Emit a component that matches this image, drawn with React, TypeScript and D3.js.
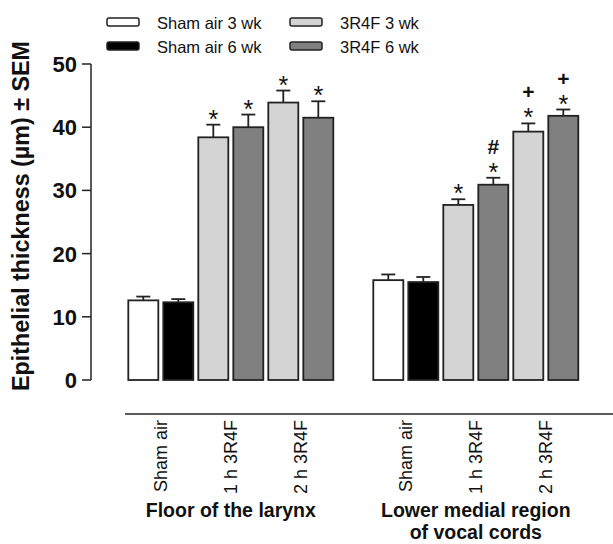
import React from 'react';
import * as d3 from 'd3';

const width = 613;
const height = 544;

const groupTitles = [['Floor of the larynx'], ['Lower medial region', 'of vocal cords']];
const groups = ['larynx', 'cords'];
const categories = ['Sham air', '1 h 3R4F', '2 h 3R4F'];
const seriesNames = ['Sham air 3 wk', 'Sham air 6 wk', '3R4F 3 wk', '3R4F 6 wk'];
const seriesColors = ['#ffffff', '#000000', '#d4d4d4', '#808080'];

// bars in order: Sham 3wk, Sham 6wk, 1h 3wk, 1h 6wk, 2h 3wk, 2h 6wk
const larynxMean = [12.6, 12.3, 38.4, 40.0, 43.9, 41.5];
const larynxSem = [0.6, 0.5, 2.0, 2.0, 1.9, 2.6];
const larynxMarks = [[], [], ['*'], ['*'], ['*'], ['*']];

const cordsMean = [15.8, 15.5, 27.7, 30.9, 39.3, 41.8];
const cordsSem = [0.9, 0.8, 0.9, 1.1, 1.3, 1.0];
const cordsMarks = [[], [], ['*'], ['*', '#'], ['*', '+'], ['*', '+']];

const yTicks = [0, 10, 20, 30, 40, 50];

const font = "'Liberation Sans', Arial, sans-serif";

const App = () => {
  const y = d3.scaleLinear().domain([0, 50]).range([380, 64]);

  const xGroup = d3.scaleBand<string>()
    .domain(groups)
    .range([128.3, 583.3])
    .paddingInner(35 / 245);

  const xBar = d3.scaleBand<string>()
    .domain(d3.range(6).map(String))
    .range([0, 205])
    .paddingInner(1 / 7);

  const xCat = d3.scaleBand<string>()
    .domain(categories)
    .range([0, 205])
    .paddingInner(5 / 70);

  const data = [
    { key: 'larynx', mean: larynxMean, sem: larynxSem, marks: larynxMarks },
    { key: 'cords', mean: cordsMean, sem: cordsSem, marks: cordsMarks },
  ];

  // Sham air bars take series 0/1, exposed bars take 2/3
  const seriesOf = (i: number) => (i < 2 ? i : 2 + (i % 2));

  const capW = 14;

  return (
    <svg width={width} height={height} style={{ position: 'absolute', left: 0, top: 0, background: '#fff' }}
      fontFamily={font}>
      {/* legend */}
      {seriesNames.map((name, i) => {
        const col = i < 2 ? 0 : 1;
        const row = i % 2;
        const lx = col === 0 ? 107 : 290;
        const ly = 18 + row * 24;
        return (
          <g key={name}>
            <rect x={lx} y={ly} width={32} height={8} rx={2} fill={seriesColors[i]} stroke="#222" strokeWidth={1.5} />
            <text x={lx + 50} y={ly + 11} fontSize={16.5} fill="#111">{name}</text>
          </g>
        );
      })}

      {/* y axis */}
      <line x1={91} x2={91} y1={y(50)} y2={y(0)} stroke="#222" strokeWidth={1.5} />
      {yTicks.map(t => (
        <g key={t}>
          <line x1={82} x2={91} y1={y(t)} y2={y(t)} stroke="#222" strokeWidth={1.5} />
          <text x={77} y={y(t)} dy="0.36em" textAnchor="end" fontSize={22} fontWeight="bold" fill="#111">{t}</text>
        </g>
      ))}
      <text transform="translate(29,216) rotate(-90)" textAnchor="middle" fontSize={24} fontWeight="bold"
        textLength={350} lengthAdjust="spacingAndGlyphs" fill="#111">
        Epithelial thickness (µm) ± SEM
      </text>

      {/* bars */}
      {data.map((g, gi) => {
        const gx = xGroup(g.key)!;
        return (
          <g key={g.key} transform={`translate(${gx},0)`}>
            {g.mean.map((m, i) => {
              const bx = xBar(String(i))!;
              const bw = xBar.bandwidth();
              const cx = bx + bw / 2;
              const top = y(m);
              const errTop = y(m + g.sem[i]);
              return (
                <g key={i}>
                  <line x1={cx} x2={cx} y1={top} y2={errTop} stroke="#222" strokeWidth={1.8} />
                  <line x1={cx - capW / 2} x2={cx + capW / 2} y1={errTop} y2={errTop} stroke="#222" strokeWidth={1.8} />
                  <rect x={bx} y={top} width={bw} height={y(0) - top} fill={seriesColors[seriesOf(i)]}
                    stroke="#222" strokeWidth={1.8} />
                  {g.marks[i].map((mk, k) => (
                    mk === '*'
                      ? <text key={k} x={cx} y={errTop + 3} textAnchor="middle" fontSize={25}
                          fill="#111">{mk}</text>
                      : <text key={k} x={cx} y={errTop - 24} textAnchor="middle" fontSize={21}
                          fontWeight="bold" fill="#111">{mk}</text>
                  ))}
                </g>
              );
            })}
            {categories.map(c => {
              const cx = xCat(c)! + xCat.bandwidth() / 2;
              return (
                <text key={c} transform={`translate(${cx},420) rotate(-90)`} dy="0.36em" textAnchor="end"
                  fontSize={18} fill="#111">{c}</text>
              );
            })}
            {groupTitles[gi].map((line, k) => (
              <text key={k} x={xBar.range()[1] / 2} y={517 + k * 22} textAnchor="middle" fontSize={19.5}
                fontWeight="bold" fill="#111">{line}</text>
            ))}
          </g>
        );
      })}

      {/* separator under the bars */}
      <line x1={125} x2={613} y1={414} y2={414} stroke="#222" strokeWidth={1.5} />
    </svg>
  );
};

export default App;
